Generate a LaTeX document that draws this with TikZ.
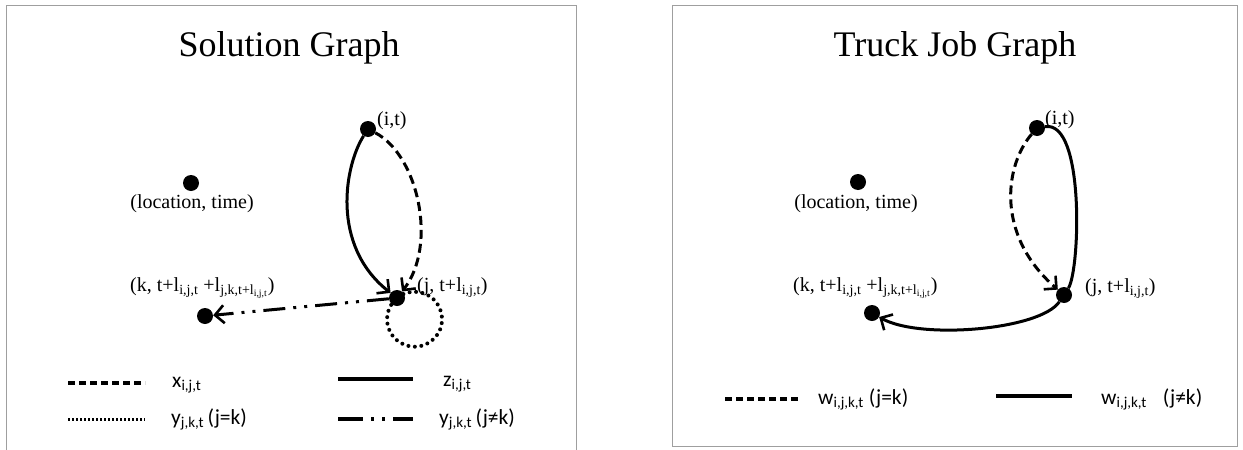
\documentclass[tikz,border=0pt]{standalone}
\usepackage{fontspec}
\setmainfont{Liberation Serif}
\newfontfamily\legfont{Carlito}
\usetikzlibrary{arrows.meta}
\begin{document}
\begin{tikzpicture}[x=1pt,y=-1pt,
  dot/.style={circle,fill=black,inner sep=0pt,minimum size=16pt},
  lbl/.style={font=\fontsize{20}{23}\selectfont,inner sep=0pt},
  ttl/.style={font=\fontsize{36}{40}\selectfont,inner sep=0pt},
  leg/.style={font=\legfont\fontsize{21.5}{24}\selectfont,inner sep=0pt,anchor=base west},
  edge/.style={line width=3pt},
  tip/.style={-{Straight Barb[length=9pt,width=18pt,line width=2.6pt]}},
  dashpat/.style={dash pattern=on 9pt off 5pt},
  dashdotdot/.style={dash pattern=on 22pt off 8pt on 3pt off 8pt on 3pt off 8pt},
  dotpat/.style={line cap=round,dash pattern=on 0pt off 6.5pt,line width=4pt},
  legline/.style={line width=3.4pt},
  frame/.style={draw=gray!75,line width=1pt}
]
\useasboundingbox (0,0) rectangle (1243,450);
\fill[white] (0,0) rectangle (1243,450);
% frames
\draw[frame] (6,451) -- (6,5) -- (576,5) -- (576,451);
\draw[frame] (672,5) rectangle (1237,446);

% ---------------- left panel ----------------
\node[ttl] (t1) at (289,48) {Solution Graph};
\node[dot] (li) at (368,129) {};
\node[dot] (ll) at (191,183) {};
\node[dot] (lj) at (397,298) {};
\node[dot] (lk) at (205,316) {};
\node[lbl,anchor=base west] (lil) at (377,125) {(i,t)};
\node[lbl,anchor=base] (lll) at (192,208) {(location, time)};
\node[lbl,anchor=base west] (ljl) at (417,291) {(j, t+l\textsubscript{i,j,t})};
\node[lbl,anchor=base west] (lkl) at (130,291) {(k, t+l\textsubscript{i,j,t} +l\textsubscript{j,k,t+l\textsubscript{i,j,t}})};

\draw[edge,tip] (li) .. controls (345,165) and (330,245) .. (lj);
\draw[edge,tip,dashpat] (li) .. controls (418,155) and (438,245) .. (lj);
\draw[edge,tip,dashdotdot] (lj) -- (lk);
\draw[dotpat] (lj) ++(6.4,-3.9) arc[start angle=246, end angle=576, radius=27.5];

% legend left
\coordinate (la1) at (68,383);  \coordinate (la2) at (145,383);
\coordinate (lb1) at (338,379); \coordinate (lb2) at (413,379);
\coordinate (lc1) at (68,419);  \coordinate (lc2) at (145,419);
\coordinate (ld1) at (338,419); \coordinate (ld2) at (413,419);
\draw[legline,dash pattern=on 7pt off 4pt] (la1) -- (la2);
\draw[legline] (lb1) -- (lb2);
\draw[line width=3pt,dash pattern=on 2pt off 2pt] (lc1) -- (lc2);
\draw[legline,dash pattern=on 25pt off 8pt on 3pt off 8pt on 3pt off 8pt] (ld1) -- (ld2);
\node[leg] (lx) at (172,387) {x\textsubscript{i,j,t}};
\node[leg] (lz) at (443,386) {z\textsubscript{i,j,t}};
\node[leg] (ly1) at (171,424) {y\textsubscript{j,k,t}\,(j=k)};
\node[leg] (ly2) at (439,424) {y\textsubscript{j,k,t}\,(j≠k)};

% ---------------- right panel ----------------
\node[ttl] (t2) at (955,48) {Truck Job Graph};
\node[dot] (ri) at (1037,128) {};
\node[dot] (rl) at (858,182) {};
\node[dot] (rj) at (1064,295) {};
\node[dot] (rk) at (872,313) {};
\node[lbl,anchor=base west] (ril) at (1045,124) {(i,t)};
\node[lbl,anchor=base] (rll) at (856,208) {(location, time)};
\node[lbl,anchor=base west] (rjl) at (1085,292) {(j, t+l\textsubscript{i,j,t})};
\node[lbl,anchor=base west] (rkl) at (793,291) {(k, t+l\textsubscript{i,j,t} +l\textsubscript{j,k,t+l\textsubscript{i,j,t}})};

\draw[edge,tip,dashpat] (ri) .. controls (1005,165) and (995,235) .. (rj);
\draw[edge] (ri) .. controls (1085,120) and (1080,270) .. (rj);
\draw[edge,tip] (rj) .. controls (1040,330) and (920,340) .. (rk);

% legend right
\coordinate (ra1) at (725,399);  \coordinate (ra2) at (800,399);
\coordinate (rb1) at (996,396);  \coordinate (rb2) at (1072,396);
\draw[legline,dash pattern=on 7pt off 4pt] (ra1) -- (ra2);
\draw[legline] (rb1) -- (rb2);
\node[leg] (rw1) at (818,404) {w\textsubscript{i,j,k,t}\hspace{5pt}(j=k)};
\node[leg] (rw2) at (1101,404) {w\textsubscript{i,j,k,t}\hspace{16pt}(j≠k)};
\end{tikzpicture}
\end{document}
